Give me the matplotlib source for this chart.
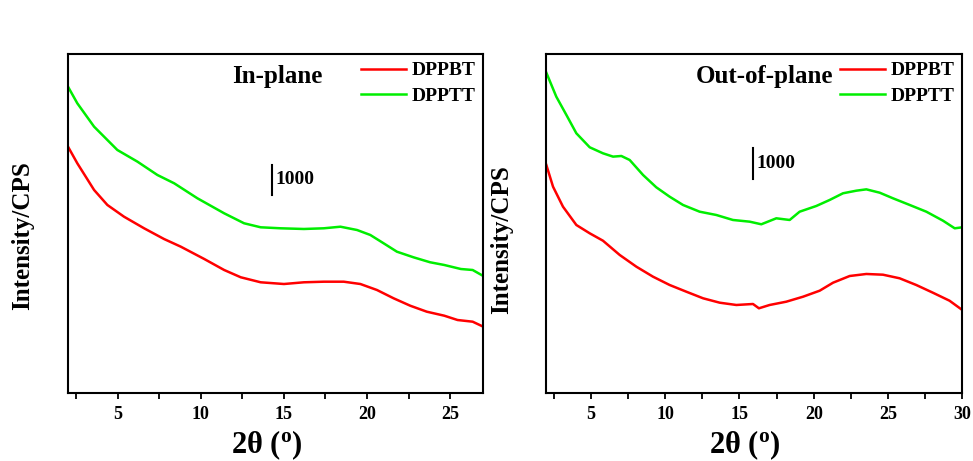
import matplotlib
matplotlib.use('Agg')
import matplotlib.pyplot as plt
from matplotlib.ticker import MultipleLocator

plt.rcParams['font.family'] = ['Liberation Serif', 'DejaVu Serif']
plt.rcParams['font.weight'] = 'bold'
plt.rcParams['mathtext.fontset'] = 'custom'
plt.rcParams['mathtext.rm'] = 'Liberation Serif'
plt.rcParams['mathtext.bf'] = 'Liberation Serif:bold'

# In-plane GIXD profiles (2theta in degrees, intensity in CPS)
ip_x_green = [2.0, 2.56, 3.57, 4.97, 6.18, 7.38, 8.39, 9.79, 11.4, 12.6, 13.6, 14.8,
              16.2, 17.4, 18.4, 19.4, 20.2, 21.0, 21.8, 22.8, 23.8, 24.65, 25.65, 26.36, 27.0]
ip_dpptt = [10210, 9656, 8877, 8100, 7711, 7267, 6990, 6490, 5990, 5657, 5523, 5490,
            5467, 5490, 5543, 5433, 5267, 4990, 4710, 4523, 4357, 4267, 4133, 4100, 3900]
ip_x_red = [2.0, 2.56, 3.57, 4.37, 5.37, 6.58, 7.78, 8.79, 10.2, 11.4, 12.4, 13.6, 15.0,
            16.2, 17.4, 18.6, 19.6, 20.6, 21.6, 22.6, 23.6, 24.65, 25.45, 26.36, 27.0]
ip_dppbt = [8210, 7656, 6767, 6267, 5877, 5490, 5133, 4877, 4467, 4100, 3857, 3690, 3633,
            3690, 3710, 3710, 3633, 3433, 3157, 2910, 2710, 2577, 2433, 2377, 2210]

# Out-of-plane profiles
op_x_green = [2.0, 2.67, 3.35, 4.02, 4.92, 5.81, 6.49, 7.05, 7.61, 8.51, 9.40, 10.3, 11.2,
              12.32, 13.44, 14.56, 15.69, 16.47, 17.48, 18.38, 19.05, 20.17, 21.07, 21.97,
              22.87, 23.54, 24.44, 25.33, 26.46, 27.58, 28.70, 29.49, 30.0]
op_dpptt = [10332, 9558, 8968, 8377, 7925, 7732, 7624, 7645, 7516, 7032, 6635, 6332, 6065,
            5848, 5742, 5581, 5526, 5442, 5635, 5581, 5848, 6032, 6226, 6442,
            6526, 6569, 6461, 6281, 6065, 5848, 5558, 5312, 5345]
op_x_red = [2.0, 2.45, 3.12, 4.02, 4.92, 5.81, 6.94, 8.06, 9.18, 10.30, 11.42, 12.55, 13.67,
            14.79, 15.91, 16.31, 17.03, 18.15, 19.28, 20.40, 21.30, 22.42, 23.54, 24.66,
            25.78, 26.9, 28.02, 29.14, 30.0]
op_dppbt = [7355, 6655, 6010, 5419, 5151, 4913, 4452, 4074, 3752, 3484, 3268, 3055, 2913,
            2839, 2871, 2732, 2839, 2945, 3106, 3300, 3558, 3774, 3839, 3816,
            3700, 3484, 3235, 2977, 2677]

fig = plt.figure(figsize=(9.73, 4.61), dpi=100)
ax1 = fig.add_axes([0.0699, 0.1475, 0.4268, 0.7354])
ax2 = fig.add_axes([0.5615, 0.1475, 0.4275, 0.7354])

panels = [
    (ax1, ip_x_red, ip_dppbt, ip_x_green, ip_dpptt, (2, 27), 11300, 14.26, 6600),
    (ax2, op_x_red, op_dppbt, op_x_green, op_dpptt, (2, 30), 10935, 15.93, 6900),
]

for ax, xr, yr, xg, yg, xlim, ytop, bar_x, bar_y in panels:
    ax.plot(xr, yr, color='#ff0000', lw=1.8, label='DPPBT')
    ax.plot(xg, yg, color='#00ee00', lw=1.8, label='DPPTT')
    ax.set_xlim(*xlim)
    ax.set_ylim(0, ytop)
    ax.xaxis.set_major_locator(MultipleLocator(5))
    ax.xaxis.set_minor_locator(MultipleLocator(2.5))
    ax.tick_params(axis='x', which='both', direction='out', length=4, width=1.3,
                   labelsize=13, pad=5)
    ax.tick_params(axis='y', left=False, labelleft=False)
    for sp in ax.spines.values():
        sp.set_linewidth(1.5)
    for lab in ax.get_xticklabels():
        lab.set_fontweight('bold')

    # 1000 CPS scale bar
    ax.plot([bar_x, bar_x], [bar_y, bar_y + 1000], color='black', lw=1.5)
    ax.text(bar_x + 0.2, bar_y + 500, '1000', fontsize=14, fontweight='bold',
            va='center', ha='left')

    leg = ax.legend(loc='upper right', bbox_to_anchor=(1.0, 1.0), frameon=False,
                    fontsize=14, handlelength=2.3, handletextpad=0.3, labelspacing=0.4,
                    borderaxespad=0.0, borderpad=0.4)
    for t in leg.get_texts():
        t.set_fontweight('bold')

    ax.set_xlabel(r'2θ ($\mathbf{^o}$)', fontsize=22, fontweight='bold', labelpad=2)
    ax.xaxis.set_label_coords(0.478, -0.105)

ax1.text(0.395, 0.935, 'In-plane', transform=ax1.transAxes, fontsize=18,
         fontweight='bold', ha='left', va='center')
ax2.text(0.358, 0.935, 'Out-of-plane', transform=ax2.transAxes, fontsize=18,
         fontweight='bold', ha='left', va='center')

fig.text(0.023, 0.49, 'Intensity/CPS', rotation=90, fontsize=18, fontweight='bold',
         ha='center', va='center')
fig.text(0.516, 0.48, 'Intensity/CPS', rotation=90, fontsize=18, fontweight='bold',
         ha='center', va='center')

fig.savefig('out.png', dpi=100)
